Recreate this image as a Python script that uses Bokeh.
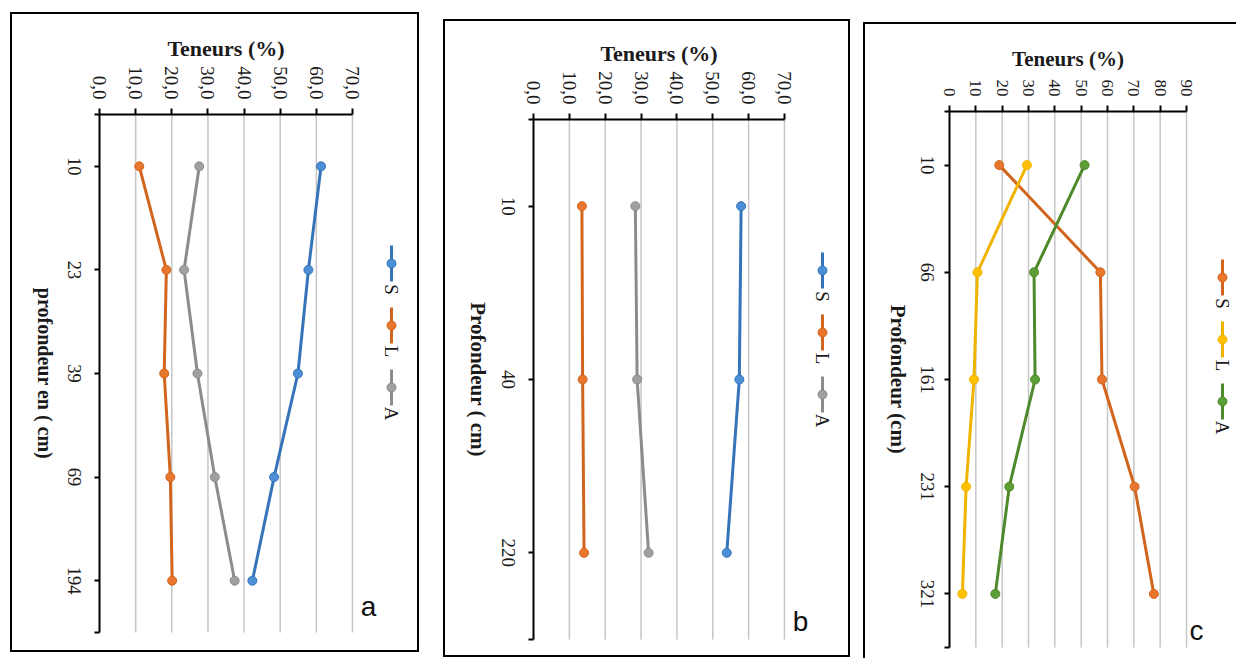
import math
from bokeh.plotting import figure
from bokeh.layouts import row
from bokeh.models import Range1d, FixedTicker, ColumnDataSource
from bokeh.core.properties import value
from bokeh.embed import file_html
from bokeh.resources import INLINE

SERIF = "Liberation Serif"
SANS = "Liberation Sans"

# ---- data: grain-size fractions (%) by depth (cm) for three soil profiles ----
legend_names = ["S", "L", "A"]

depth_a = ["10", "23", "39", "69", "194"]
sable_a = [61.3, 57.8, 54.9, 48.3, 42.3]
limon_a = [11.0, 18.5, 17.9, 19.6, 20.1]
argile_a = [27.6, 23.4, 27.1, 31.9, 37.4]
ticks_a = [0, 10, 20, 30, 40, 50, 60, 70]
ticklabels_a = ["0,0", "10,0", "20,0", "30,0", "40,0", "50,0", "60,0", "70,0"]

depth_b = ["10", "40", "220"]
sable_b = [57.9, 57.4, 53.9]
limon_b = [13.5, 13.7, 14.1]
argile_b = [28.4, 28.9, 32.1]
ticks_b = [0, 10, 20, 30, 40, 50, 60, 70]
ticklabels_b = ["0,0", "10,0", "20,0", "30,0", "40,0", "50,0", "60,0", "70,0"]

depth_c = ["10", "66", "161", "231", "321"]
sable_c = [18.9, 57.3, 57.9, 70.3, 77.6]
limon_c = [29.4, 10.6, 9.3, 6.3, 4.9]
argile_c = [51.3, 32.1, 32.5, 22.7, 17.4]
ticks_c = [0, 10, 20, 30, 40, 50, 60, 70, 80, 90]
ticklabels_c = ["0", "10", "20", "30", "40", "50", "60", "70", "80", "90"]

# ---- colours ----
BLUE, BLUE_F = "#3574B8", "#4C8FD6"
ORANGE, ORANGE_F = "#D2651E", "#E8762D"
GREY, GREY_F = "#8C8C8C", "#A0A0A0"
YELLOW, YELLOW_F = "#F0B400", "#FFC000"
GREEN, GREEN_F = "#4E8A2B", "#5E9E36"
TEXT = "#1a1a1a"
GRID = "#C6C6C6"


def make_panel(depths, series, colors, fills, ticks, ticklabels, ylabel, letter, g):
    """One boxed panel; the plot frame fills the whole box and both axes are
    pinned at the zero lines, so every text can live inside the frame."""
    n = len(depths)
    w, h = g["width"], g["height"]
    ax_left, ax_top, ax_bottom = g["ax_left"], g["ax_top"], g["ax_bottom"]
    ppu = g["axis_px"] / ticks[-1]          # pixels per percent
    ppc = (ax_bottom - ax_top) / n           # pixels per depth class

    def to_x(px):
        return (px - ax_left) / ppu

    def to_y(py):
        return (py - ax_top) / ppc

    p = figure(width=w, height=h,
               x_range=Range1d(to_x(0), to_x(w)),
               y_range=Range1d(to_y(h), to_y(0)),
               x_axis_location="above", toolbar_location=None, output_backend="svg",
               min_border=0, min_border_left=0, min_border_right=0,
               min_border_top=0, min_border_bottom=0,
               outline_line_color=None, border_fill_color=None,
               background_fill_color=None,
               margin=g["margin"], styles={"box-shadow": g["box"]})
    p.xgrid.visible = False
    p.ygrid.visible = False

    cat_pos = [i + 0.5 for i in range(n)]

    # vertical grid lines at the value ticks, limited to the depth span
    p.segment(x0=ticks[1:], y0=[0] * (len(ticks) - 1), x1=ticks[1:], y1=[n] * (len(ticks) - 1),
              line_color=GRID, line_width=1.5)

    # value axis along the top of the depth span
    xa = p.xaxis[0]
    xa.fixed_location = 0
    xa.bounds = (0, ticks[-1])
    xa.ticker = FixedTicker(ticks=ticks)
    xa.major_label_overrides = {float(t): s for t, s in zip(ticks, ticklabels)}
    xa.major_label_orientation = -math.pi / 2
    xa.major_label_text_font = SERIF
    xa.major_label_text_font_size = g["tick_size"]
    xa.major_label_text_color = TEXT
    xa.major_label_standoff = 9
    xa.major_tick_out = 6
    xa.major_tick_in = 0
    xa.minor_tick_out = 0
    xa.minor_tick_in = 0
    xa.axis_line_width = 2
    xa.major_tick_line_width = 2

    # depth axis: line and tick marks (tick marks as minor ticks, no labels)
    ya = p.yaxis[0]
    ya.fixed_location = 0
    ya.bounds = (0, n)
    ya.ticker = FixedTicker(ticks=[], minor_ticks=[0] + cat_pos + [n])
    ya.major_tick_out = 0
    ya.major_tick_in = 0
    ya.minor_tick_out = 5
    ya.minor_tick_in = 0
    ya.minor_tick_line_color = "black"
    ya.minor_tick_line_width = 2
    ya.axis_line_width = 2

    # axis titles and depth names
    p.text(x=[ticks[-1] / 2], y=[to_y(g["title_y"])], text=["Teneurs (%)"],
           text_align="center", text_baseline="middle", text_font=value(SERIF),
           text_font_style="bold", text_font_size=g["title_size"], text_color=TEXT)
    p.text(x=[to_x(ax_left - g["depth_offset"])] * n, y=cat_pos, text=depths,
           angle=-math.pi / 2, text_align="center", text_baseline="middle",
           text_font=value(SERIF), text_font_size=g["depth_size"], text_color=TEXT)
    p.text(x=[to_x(ax_left - g["ylabel_offset"])], y=[n / 2], text=[ylabel],
           angle=-math.pi / 2, text_align="center", text_baseline="middle",
           text_font=value(SERIF), text_font_style="bold",
           text_font_size=g["ylabel_size"], text_color=TEXT)

    # profiles
    for vals, c, f in zip(series, colors, fills):
        p.line(x=vals, y=cat_pos, line_color=c, line_width=3)
        p.scatter(x=vals, y=cat_pos, size=9, fill_color=f, line_color=c, line_width=1)

    # legend: vertical keys with rotated names
    lx = to_x(g["legend_x"])
    key_y = [g["legend_y"] + i * 62 for i in range(len(legend_names))]
    leg = ColumnDataSource(dict(
        x=[lx] * 3,
        y=[to_y(k) for k in key_y],
        y0=[to_y(k - 18) for k in key_y],
        y1=[to_y(k + 18) for k in key_y],
        ty=[to_y(k + 26) for k in key_y],
        c=colors, f=fills, name=legend_names))
    p.segment(x0="x", y0="y0", x1="x", y1="y1", line_color="c", line_width=3, source=leg)
    p.scatter(x="x", y="y", size=9, fill_color="f", line_color="c", source=leg)
    p.text(x="x", y="ty", text="name", angle=-math.pi / 2, text_align="center",
           text_baseline="middle", text_font=value(SERIF), text_font_size="19px",
           text_color=TEXT, source=leg)

    # panel letter
    p.text(x=[to_x(g["letter_x"])], y=[to_y(g["letter_y"])], text=[letter],
           text_align="center", text_baseline="alphabetic", text_font=value(SANS),
           text_font_size="28px", text_color="#111111")
    return p


# pixel layout of each panel (relative to its own box)
geom_a = dict(width=409, height=640, margin=(12, 0, 0, 10), box="inset 0 0 0 2px #000",
              ax_left=89, ax_top=102, ax_bottom=620, axis_px=253,
              tick_size="19px", depth_size="18.5px", title_size="22px", ylabel_size="20px",
              title_y=36, depth_offset=25, ylabel_offset=55,
              legend_x=381, legend_y=251, letter_x=358, letter_y=594)
geom_b = dict(width=407, height=638, margin=(19, 0, 0, 24), box="inset 0 0 0 2px #000",
              ax_left=90, ax_top=100, ax_bottom=620, axis_px=251,
              tick_size="19px", depth_size="19px", title_size="22px", ylabel_size="21px",
              title_y=34, depth_offset=25, ylabel_offset=56,
              legend_x=379, legend_y=251, letter_x=357, letter_y=602)
geom_c = dict(width=373, height=636, margin=(22, 0, 0, 13), box="inset 2px 2px 0 0 #000",
              ax_left=86, ax_top=89, ax_bottom=625, axis_px=237,
              tick_size="17px", depth_size="19px", title_size="21px", ylabel_size="21px",
              title_y=36, depth_offset=22, ylabel_offset=52,
              legend_x=359, legend_y=255, letter_x=333, letter_y=608)

pa = make_panel(depth_a, [sable_a, limon_a, argile_a], [BLUE, ORANGE, GREY],
                [BLUE_F, ORANGE_F, GREY_F], ticks_a, ticklabels_a,
                "profondeur en ( cm)", "a", geom_a)
pb = make_panel(depth_b, [sable_b, limon_b, argile_b], [BLUE, ORANGE, GREY],
                [BLUE_F, ORANGE_F, GREY_F], ticks_b, ticklabels_b,
                "Profondeur ( cm)", "b", geom_b)
pc = make_panel(depth_c, [sable_c, limon_c, argile_c], [ORANGE, YELLOW, GREEN],
                [ORANGE_F, YELLOW_F, GREEN_F], ticks_c, ticklabels_c,
                "Profondeur (cm)", "c", geom_c)

layout = row(pa, pb, pc)
open("out.html", "w").write(file_html(layout, INLINE))
